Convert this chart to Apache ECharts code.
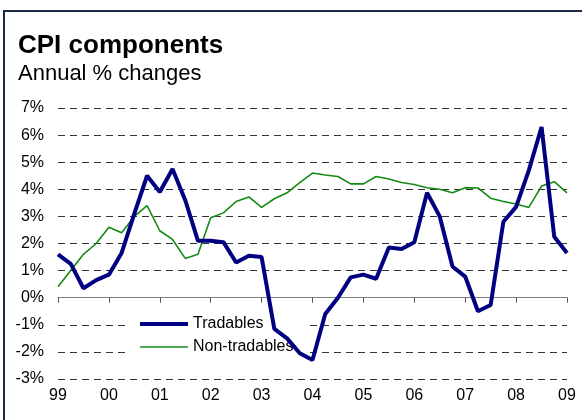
<!DOCTYPE html>
<html>
<head>
<meta charset="utf-8">
<script src="https://cdn.jsdelivr.net/npm/echarts@6/dist/echarts.min.js"></script>
<style>
  html, body { margin: 0; padding: 0; background: #fff; }
  #chart { width: 582px; height: 420px; }
</style>
</head>
<body>
<div id="chart"></div>
<script>
// years shown on the x axis, data is quarterly from 99 Q1 to 09 Q1
var years = ['99', '00', '01', '02', '03', '04', '05', '06', '07', '08', '09'];
var quarters = [];
years.forEach(function (y, i) {
    var n = i === years.length - 1 ? 1 : 4;
    for (var q = 1; q <= n; q++) quarters.push(y + ' Q' + q);
});

var yTicks = [-3, -2, -1, 0, 1, 2, 3, 4, 5, 6, 7];

var tradables = [
    1.6, 1.25, 0.35, 0.65, 0.85, 1.65, 3.1, 4.5, 3.9, 4.75,
    3.6, 2.1, 2.1, 2.05, 1.3, 1.55, 1.5, -1.15, -1.5, -2.05,
    -2.3, -0.6, 0.0, 0.75, 0.85, 0.7, 1.85, 1.8, 2.05, 3.87,
    3.0, 1.15, 0.78, -0.5, -0.27, 2.8, 3.35, 4.7, 6.3, 2.25,
    1.65
];

var nonTradables = [
    0.4, 1.0, 1.6, 2.0, 2.6, 2.4, 3.0, 3.4, 2.47, 2.15,
    1.45, 1.6, 2.95, 3.13, 3.55, 3.72, 3.33, 3.65, 3.87, 4.25,
    4.6, 4.53, 4.47, 4.2, 4.2, 4.47, 4.38, 4.25, 4.18, 4.06,
    4.0, 3.87, 4.06, 4.05, 3.67, 3.55, 3.46, 3.33, 4.12, 4.28,
    3.87
];

var chart = echarts.init(document.getElementById('chart'));
chart.setOption({
    animation: false,
    textStyle: { fontFamily: 'Liberation Sans, Arial, sans-serif' },
    graphic: [
        { type: 'rect', shape: { x: 3, y: 10, width: 579, height: 2 }, style: { fill: '#1c2b45' } },
        { type: 'rect', shape: { x: 3, y: 10, width: 2, height: 410 }, style: { fill: '#1c2b45' } }
    ],
    title: [
        {
            text: 'CPI components',
            left: 18, top: 33, padding: 0,
            textStyle: { fontSize: 26, fontWeight: 'bold', color: '#000' }
        },
        {
            text: 'Annual % changes',
            left: 18, top: 63, padding: 0,
            textStyle: { fontSize: 22, fontWeight: 'normal', color: '#000' }
        }
    ],
    legend: {
        orient: 'vertical',
        left: 127,
        top: 310,
        padding: [6, 13, 6, 13],
        backgroundColor: '#fff',
        z: 1,
        itemWidth: 48,
        itemHeight: 14,
        itemGap: 7,
        symbolKeepAspect: true,
        textStyle: { fontSize: 16, color: '#000' },
        data: [
            { name: 'Tradables', icon: 'path://M0,0H48V4H0Z' },
            { name: 'Non-tradables', icon: 'path://M0,0H48V1.6H0Z' }
        ]
    },
    grid: { left: 58, right: 15, top: 108, bottom: 41 },
    xAxis: [
        {
            type: 'category',
            data: quarters,
            boundaryGap: false,
            axisLine: { onZero: true, lineStyle: { color: '#808080', width: 1 } },
            axisTick: { interval: 3, length: 5, lineStyle: { color: '#555' } },
            axisLabel: { show: false },
            splitLine: { show: false }
        },
        {
            type: 'category',
            data: quarters,
            boundaryGap: false,
            position: 'bottom',
            axisLine: { show: false, onZero: false },
            axisTick: { show: false },
            axisLabel: {
                interval: 3,
                fontSize: 16,
                color: '#000',
                margin: 9,
                formatter: function (v) { return v.split(' ')[0]; }
            }
        }
    ],
    yAxis: {
        type: 'value',
        min: yTicks[0],
        max: yTicks[yTicks.length - 1],
        interval: 1,
        axisLine: { show: false },
        axisTick: { show: false },
        axisLabel: { fontSize: 16, color: '#000', margin: 14, formatter: '{value}%' },
        splitLine: { lineStyle: { color: '#333', type: [7, 5], width: 1 } }
    },
    series: [
        {
            name: 'Tradables',
            type: 'line',
            xAxisIndex: 0,
            data: tradables,
            symbol: 'none',
            z: 3,
            color: '#000080',
            lineStyle: { color: '#000080', width: 4 }
        },
        {
            name: 'Non-tradables',
            type: 'line',
            xAxisIndex: 0,
            data: nonTradables,
            symbol: 'none',
            z: 2,
            color: '#138a13',
            lineStyle: { color: '#138a13', width: 1.6 }
        }
    ]
});
</script>
</body>
</html>
